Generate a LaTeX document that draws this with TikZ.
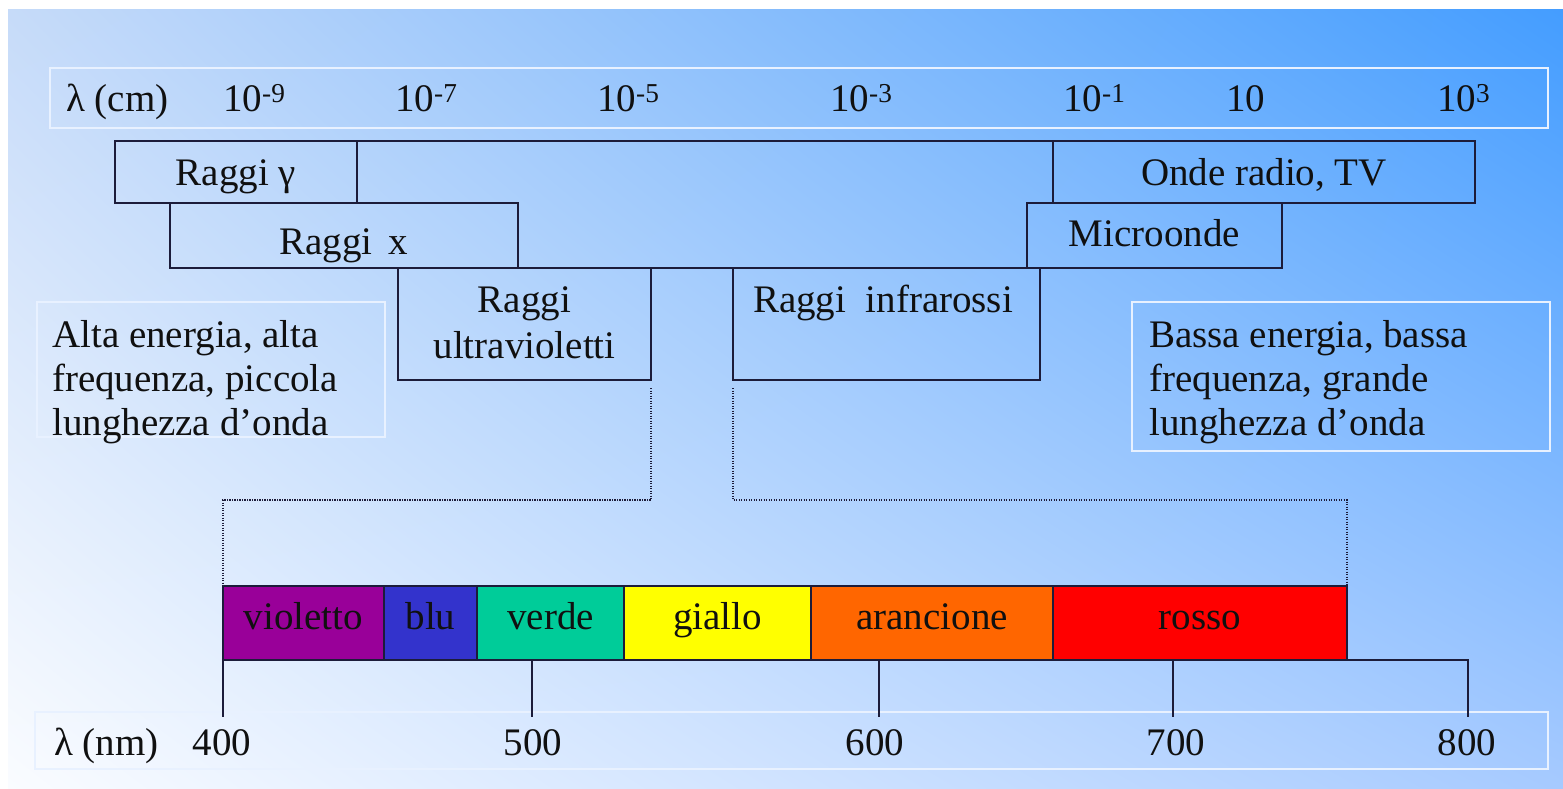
\documentclass[tikz,border=0pt]{standalone}
\usepackage{fontspec}
\setmainfont{Liberation Serif}
\usetikzlibrary{calc,shadings}
\definecolor{bgUL}{HTML}{C6DBF9}
\definecolor{bgUR}{HTML}{449DFF}
\definecolor{bgLL}{HTML}{FAFCFF}
\definecolor{bgLR}{HTML}{A6CAFF}
\definecolor{boxline}{HTML}{1C1C3A}
\definecolor{lightline}{HTML}{E8F1FF}
\definecolor{txt}{HTML}{101010}
\definecolor{cvio}{HTML}{990099}
\definecolor{cblu}{HTML}{3333CC}
\definecolor{cver}{HTML}{00CC99}
\definecolor{cgia}{HTML}{FFFF00}
\definecolor{cara}{HTML}{FF6600}
\definecolor{cros}{HTML}{FF0000}
\begin{document}
\begin{tikzpicture}[x=1pt,y=-1pt,
  font=\fontsize{39}{45}\selectfont, text=txt,
  box/.style={draw=boxline, line width=1.6pt, inner sep=0pt, outer sep=0pt, text height=26pt, text depth=0pt},
  lightbox/.style={draw=lightline, line width=2pt, inner sep=0pt, outer sep=0pt},
  band/.style={draw=boxline, line width=1.2pt, inner sep=0pt, outer sep=0pt, minimum height=74, text height=20pt, text depth=8pt},
  lbl/.style={inner sep=0pt, anchor=base west},
  clbl/.style={inner sep=0pt, anchor=base},
  conn/.style={draw=boxline, line width=1.5pt, dash pattern=on 1.2pt off 1.3pt},
  tickline/.style={draw=boxline, line width=1.4pt}]

\useasboundingbox (0,0) rectangle (1563,789);
\fill[white] (0,0) rectangle (1563,789);
\shade[upper left=bgUL, upper right=bgUR, lower left=bgLL, lower right=bgLR] (8,10) rectangle (1563,789);

% wavelength scale (cm)
\node[lightbox, minimum width=1498, minimum height=60] (cmscale) at (799,98) {};
\node[lbl] (lcm) at (66,112) {λ (cm)};
\node[lbl] (e9) at (223,112) {10\textsuperscript{-9}};
\node[lbl] (e7) at (395,112) {10\textsuperscript{-7}};
\node[lbl] (e5) at (597,112) {10\textsuperscript{-5}};
\node[lbl] (e3) at (830,112) {10\textsuperscript{-3}};
\node[lbl] (e1) at (1063,112) {10\textsuperscript{-1}};
\node[lbl] (p1) at (1226,112) {10};
\node[lbl] (p3) at (1437,112) {10\textsuperscript{3}};

% radiation boxes
\node[box, minimum width=242, minimum height=62] (gamma) at (236,172) {Raggi γ};
\node[box, minimum width=348, minimum height=65, text height=37pt] (xray) at (344,235.5) {Raggi\, x};
\node[box, minimum width=422, minimum height=62] (radio) at (1264,172) {Onde radio, TV};
\node[box, minimum width=255, minimum height=65, text height=22pt] (micro) at (1154.5,235.5) {Microonde};
\node[box, minimum width=253, minimum height=112] (uv) at (524.5,324) {};
\node[box, minimum width=307, minimum height=112] (ir) at (886.5,324) {};
\draw[draw=boxline, line width=1.6pt] (gamma.north east) -- (radio.north west);
\draw[draw=boxline, line width=1.6pt] (uv.north east) -- (ir.north west);
\node[clbl] (uvt1) at (524.5,312) {Raggi};
\node[clbl] (uvt2) at (524.5,358) {ultravioletti};
\node[clbl] (irt) at (883,312) {Raggi\ \ infrarossi};

% side notes
\node[lightbox, minimum width=348, minimum height=135] (alta) at (211,369.5) {};
\node[lbl] (a1) at (52,347) {Alta energia, alta};
\node[lbl] (a2) at (52,391) {frequenza, piccola};
\node[lbl] (a3) at (52,435) {lunghezza d’onda};
\node[lightbox, minimum width=418, minimum height=149] (bassa) at (1341,376.5) {};
\node[lbl] (b1) at (1149,347) {Bassa energia, bassa};
\node[lbl] (b2) at (1149,391) {frequenza, grande};
\node[lbl] (b3) at (1149,435) {lunghezza d’onda};

% visible spectrum
\node[band, fill=cvio, minimum width=161] (vio) at (303.5,623) {violetto};
\node[band, fill=cblu, minimum width=93] (blu) at (430.5,623) {blu};
\node[band, fill=cver, minimum width=147] (ver) at (550.5,623) {verde};
\node[band, fill=cgia, minimum width=187] (gia) at (717.5,623) {giallo};
\node[band, fill=cara, minimum width=242] (ara) at (932,623) {arancione};
\node[band, fill=cros, minimum width=294] (ros) at (1200,623) {rosso};

% dotted connectors
\coordinate (bend) at (0,500);
\draw[conn] ([yshift=-8pt]uv.south east) -- (uv.south east |- bend) -- (vio.north west |- bend) -- (vio.north west);
\draw[conn] ([yshift=-8pt]ir.south west) -- (ir.south west |- bend) -- (ros.north east |- bend) -- (ros.north east);

% wavelength scale (nm)
\node[lightbox, minimum width=1513, minimum height=57] (nmscale) at (791.5,740.5) {};
\coordinate (t400) at (223,717);
\coordinate (t500) at (532,717);
\coordinate (t600) at (879,717);
\coordinate (t700) at (1173,717);
\coordinate (t800) at (1468,717);
\draw[tickline] (vio.south west) -- (t400);
\draw[tickline] (t500 |- ver.south) -- (t500);
\draw[tickline] (t600 |- ara.south) -- (t600);
\draw[tickline] (t700 |- ros.south) -- (t700);
\draw[tickline] (ros.south east) -- (ros.south east -| t800) -- (t800);
\node[lbl] (lnm) at (54,755) {λ (nm)};
\node[clbl] (n400) at (222,755) {400};
\node[clbl] (n500) at (533,755) {500};
\node[clbl] (n600) at (875,755) {600};
\node[clbl] (n700) at (1176,755) {700};
\node[clbl] (n800) at (1467,755) {800};
\end{tikzpicture}
\end{document}
